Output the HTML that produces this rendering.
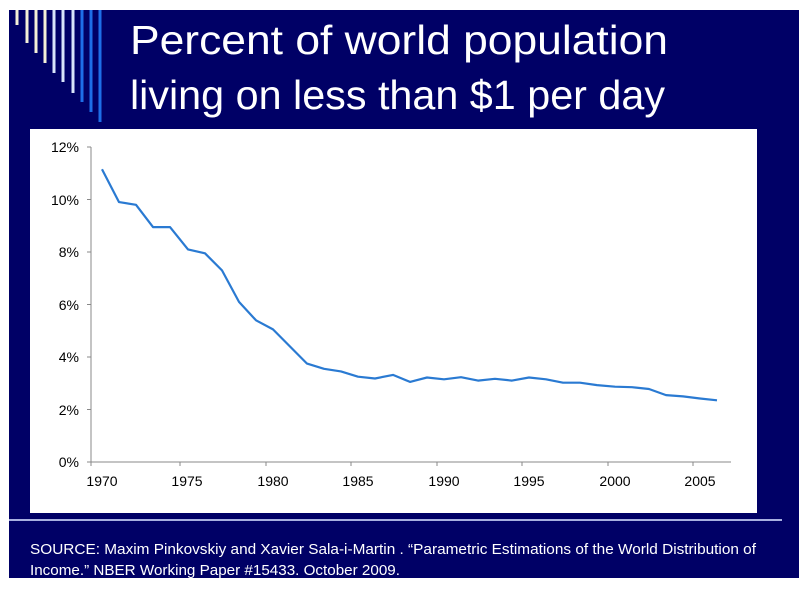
<!DOCTYPE html>
<html><head><meta charset="utf-8"><style>
html,body{margin:0;padding:0;background:#fff;}
svg{display:block;font-family:"Liberation Sans",sans-serif;}
</style></head><body>
<svg width="812" height="592" viewBox="0 0 812 592" xmlns="http://www.w3.org/2000/svg">
<rect x="9" y="10" width="790" height="568" fill="#000066"/>
<g stroke-width="3">
<line x1="17" y1="10" x2="17" y2="25" stroke="#f4f0d8"/>
<line x1="27" y1="10" x2="27" y2="43" stroke="#f4f0d8"/>
<line x1="36" y1="10" x2="36" y2="53" stroke="#f4f0d8"/>
<line x1="45" y1="10" x2="45" y2="63" stroke="#f4f0d8"/>
<line x1="54" y1="10" x2="54" y2="73" stroke="#d8e4fa"/>
<line x1="63" y1="10" x2="63" y2="82" stroke="#d8e4fa"/>
<line x1="73" y1="10" x2="73" y2="93" stroke="#d8e4fa"/>
<line x1="82" y1="10" x2="82" y2="102" stroke="#1e6ee8"/>
<line x1="91" y1="10" x2="91" y2="112" stroke="#1e6ee8"/>
<line x1="100" y1="10" x2="100" y2="122" stroke="#1e6ee8"/>
</g>
<text x="130" y="54" fill="#fff" font-size="41" textLength="538" lengthAdjust="spacingAndGlyphs">Percent of world population</text>
<text x="130" y="109" fill="#fff" font-size="41" textLength="535" lengthAdjust="spacingAndGlyphs">living on less than $1 per day</text>
<rect x="30" y="129" width="727" height="384" fill="#fff"/>
<line x1="9" y1="520" x2="782" y2="520" stroke="#a8b0e0" stroke-width="2"/>
<g stroke="#888" stroke-width="1">
<line x1="91" y1="147" x2="91" y2="462"/>
<line x1="91" y1="462" x2="731" y2="462"/>
<line x1="87" y1="147" x2="91" y2="147"/><line x1="87" y1="199.5" x2="91" y2="199.5"/>
<line x1="87" y1="252" x2="91" y2="252"/><line x1="87" y1="304.5" x2="91" y2="304.5"/>
<line x1="87" y1="357" x2="91" y2="357"/><line x1="87" y1="409.5" x2="91" y2="409.5"/>
<line x1="87" y1="462" x2="91" y2="462"/>
<line x1="91" y1="462" x2="91" y2="466"/>
<line x1="180" y1="462" x2="180" y2="466"/><line x1="266" y1="462" x2="266" y2="466"/>
<line x1="351" y1="462" x2="351" y2="466"/><line x1="437" y1="462" x2="437" y2="466"/>
<line x1="522" y1="462" x2="522" y2="466"/><line x1="608" y1="462" x2="608" y2="466"/>
<line x1="693" y1="462" x2="693" y2="466"/>
</g>
<g font-size="14" fill="#000" text-anchor="end">
<text x="79" y="152">12%</text><text x="79" y="205">10%</text><text x="79" y="257">8%</text>
<text x="79" y="310">6%</text><text x="79" y="362">4%</text><text x="79" y="415">2%</text>
<text x="79" y="467">0%</text>
</g>
<g font-size="14" fill="#000" text-anchor="middle">
<text x="102" y="486">1970</text><text x="187" y="486">1975</text><text x="273" y="486">1980</text>
<text x="358" y="486">1985</text><text x="444" y="486">1990</text><text x="529" y="486">1995</text>
<text x="615" y="486">2000</text><text x="700" y="486">2005</text>
</g>
<polyline fill="none" stroke="#2a7ad2" stroke-width="2.2" stroke-linejoin="round" points="102,169.3 119,202.1 136,204.8 153,227.1 170,227.1 188,249.4 205,253.3 222,270.4 239,301.9 256,320.3 273,329.4 290,346.5 307,363.6 324,368.8 341,371.4 358,376.7 375,378.5 393,374.9 410,381.9 427,377.5 444,379.3 461,377.2 478,380.6 495,378.8 512,380.6 529,377.5 546,379.3 563,382.7 580,382.7 597,385.1 615,386.7 632,387.2 649,389.0 666,395.1 683,396.4 700,398.5 717,400.3"/>
<g font-size="14.5" fill="#fff">
<text x="30" y="554" textLength="726" lengthAdjust="spacingAndGlyphs">SOURCE: Maxim Pinkovskiy and Xavier Sala-i-Martin . “Parametric Estimations of the World Distribution of</text>
<text x="30" y="575" textLength="370" lengthAdjust="spacingAndGlyphs">Income.” NBER Working Paper #15433. October 2009.</text>
</g>
</svg>
</body></html>
